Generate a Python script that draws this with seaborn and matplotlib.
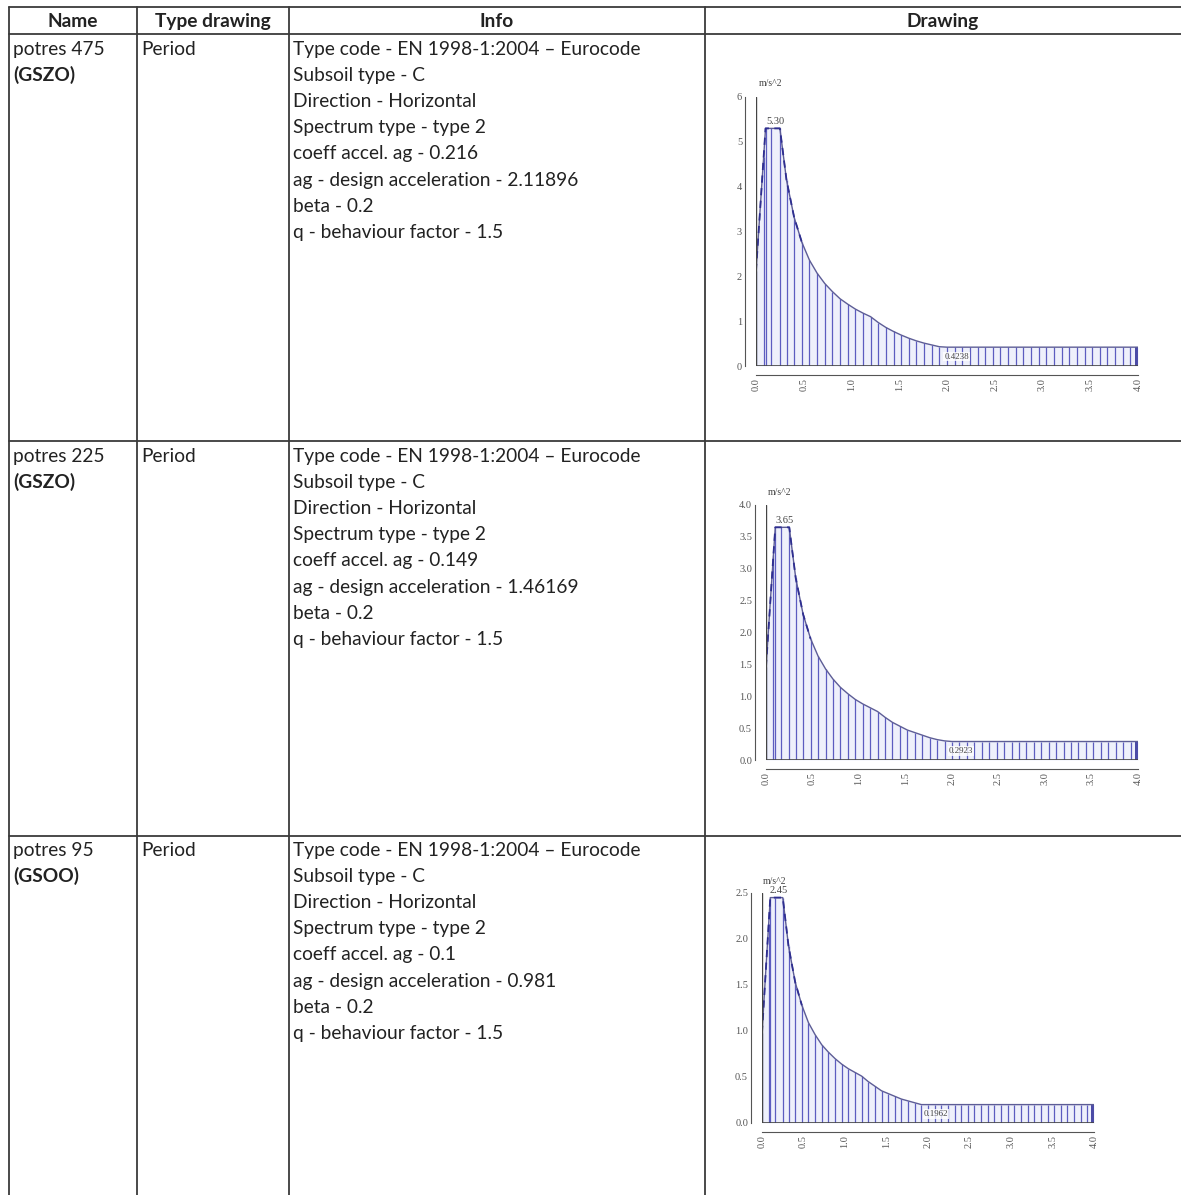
import matplotlib
matplotlib.use("Agg")
import matplotlib.pyplot as plt
import seaborn as sns
import pandas as pd

W, H = 1181, 1195

headers = ["Name", "Type drawing", "Info", "Drawing"]
names = ["potres 475", "potres 225", "potres 95"]
codes = ["(GSZO)", "(GSZO)", "(GSOO)"]
type_drawing = ["Period", "Period", "Period"]
coeff_ag = ["0.216", "0.149", "0.1"]
design_acc = ["2.11896", "1.46169", "0.981"]

# period axis of the spectra (s)
periods = [0.00, 0.08, 0.10, 0.16, 0.25, 0.32, 0.40, 0.48, 0.56, 0.64, 0.72, 0.80,
           0.88, 0.96, 1.04, 1.12, 1.20, 1.28, 1.36, 1.44, 1.52, 1.60, 1.68, 1.76,
           1.84, 1.92, 2.00, 2.08, 2.16, 2.24, 2.32, 2.40, 2.48, 2.56, 2.64, 2.72,
           2.80, 2.88, 2.96, 3.04, 3.12, 3.20, 3.28, 3.36, 3.44, 3.52, 3.60, 3.68,
           3.76, 3.84, 3.92, 4.00]
sd_475 = [2.12, 4.66, 5.30, 5.30, 5.30, 4.14, 3.31, 2.76, 2.36, 2.07, 1.84, 1.66,
          1.50, 1.38, 1.27, 1.18, 1.10, 0.97, 0.86, 0.77, 0.69, 0.62, 0.56, 0.51,
          0.47, 0.43, 0.42, 0.42, 0.42, 0.42, 0.42, 0.42, 0.42, 0.42, 0.42, 0.42,
          0.42, 0.42, 0.42, 0.42, 0.42, 0.42, 0.42, 0.42, 0.42, 0.42, 0.42, 0.42,
          0.42, 0.42, 0.42, 0.42]
sd_225 = [1.46, 3.22, 3.65, 3.65, 3.65, 2.85, 2.28, 1.90, 1.63, 1.43, 1.27, 1.14,
          1.04, 0.95, 0.88, 0.82, 0.76, 0.67, 0.59, 0.53, 0.47, 0.43, 0.39, 0.35,
          0.32, 0.30, 0.29, 0.29, 0.29, 0.29, 0.29, 0.29, 0.29, 0.29, 0.29, 0.29,
          0.29, 0.29, 0.29, 0.29, 0.29, 0.29, 0.29, 0.29, 0.29, 0.29, 0.29, 0.29,
          0.29, 0.29, 0.29, 0.29]
sd_95 = [0.98, 2.16, 2.45, 2.45, 2.45, 1.92, 1.53, 1.28, 1.09, 0.96, 0.85, 0.77,
         0.70, 0.64, 0.59, 0.55, 0.51, 0.45, 0.40, 0.35, 0.32, 0.29, 0.26, 0.24,
         0.22, 0.20, 0.20, 0.20, 0.20, 0.20, 0.20, 0.20, 0.20, 0.20, 0.20, 0.20,
         0.20, 0.20, 0.20, 0.20, 0.20, 0.20, 0.20, 0.20, 0.20, 0.20, 0.20, 0.20,
         0.20, 0.20, 0.20, 0.20]
spectra = [sd_475, sd_225, sd_95]

peak_labels = ["5.30", "3.65", "2.45"]
floor_labels = ["0.4238", "0.2923", "0.1962"]
y_max = [6, 4.0, 2.5]
y_fmt = ["{:.0f}", "{:.1f}", "{:.1f}"]
y_ticks = [[0, 1, 2, 3, 4, 5, 6],
           [0.0, 0.5, 1.0, 1.5, 2.0, 2.5, 3.0, 3.5, 4.0],
           [0.0, 0.5, 1.0, 1.5, 2.0, 2.5]]
x_ticks = [0.0, 0.5, 1.0, 1.5, 2.0, 2.5, 3.0, 3.5, 4.0]

# pixel boxes of the chart areas: left, right, y of zero, y of top
chart_px = [(756, 1138, 366, 97), (766, 1138, 760, 505), (762, 1094, 1123, 893)]
row_top = [49, 456, 850]
line_h = 26.2

sns.set_style("white")
plt.rcParams["font.family"] = ["Lato", "DejaVu Sans"]

fig = plt.figure(figsize=(W / 100, H / 100), dpi=100)
bg = fig.add_axes([0, 0, 1, 1])
bg.set_xlim(0, W)
bg.set_ylim(H, 0)
bg.axis("off")

# table grid
lc = "#3a3a3a"
col_x = [9, 137, 289, 705]
for x in col_x:
    bg.plot([x, x], [7, H], color=lc, lw=1.3)
for y in [7, 34, 441, 836]:
    bg.plot([9, W], [y, y], color=lc, lw=1.3)

txt = dict(fontsize=13.8, color="#222222", va="center")
col_mid = [73, 213, 497, 943]
for h, cx in zip(headers, col_mid):
    bg.text(cx, 21, h, ha="center", fontweight="bold", **txt)

for i in range(3):
    y0 = row_top[i]
    bg.text(13, y0, names[i], ha="left", **txt)
    bg.text(13, y0 + line_h, codes[i], ha="left", fontweight="bold", **txt)
    bg.text(141, y0, type_drawing[i], ha="left", **txt)
    info = ["Type code - EN 1998-1:2004 \u2013 Eurocode",
            "Subsoil type - C",
            "Direction - Horizontal",
            "Spectrum type - type 2",
            f"coeff accel. ag - {coeff_ag[i]}",
            f"ag - design acceleration - {design_acc[i]}",
            "beta - 0.2",
            "q - behaviour factor - 1.5"]
    for k, line in enumerate(info):
        bg.text(293, y0 + k * line_h, line, ha="left", **txt)

serif = ["Liberation Serif", "DejaVu Serif"]
for i in range(3):
    left, right, yz, yt = chart_px[i]
    ax = fig.add_axes([left / W, (H - yz) / H, (right - left) / W, (yz - yt) / H])
    ax.set_facecolor("none")
    df = pd.DataFrame({"T": periods, "Sd": spectra[i]})

    ax.fill_between(df["T"], 0, df["Sd"], color="#eef0fb", lw=0)
    ax.vlines(df["T"], 0, df["Sd"], color="#5c5cc0", lw=0.9)
    sns.lineplot(data=df, x="T", y="Sd", ax=ax, color="#5d5d96", lw=1.0)
    # darker dashed trace over the rising branch and the first drop
    sns.lineplot(data=df.iloc[:8], x="T", y="Sd", ax=ax, color="#2e2e90",
                 lw=1.3, linestyle=(0, (4, 3)))
    ax.bar(df["T"].iloc[-1], df["Sd"].iloc[-1], width=-0.035, align="edge",
           color="#4b4ba6", lw=0)
    ax.axvline(0, color="#444444", lw=1.0)
    ax.axhline(0, color="#444444", lw=1.2)

    ax.set_xlim(0, 4.0)
    ax.set_ylim(0, y_max[i])
    ax.set_xticks(x_ticks)
    ax.set_yticks(y_ticks[i])
    ax.set_xlabel("")
    ax.set_ylabel("")
    sns.despine(ax=ax, offset={"left": 8, "bottom": 6.5}, trim=True)
    ax.set_xticks(x_ticks)
    ax.set_xticklabels([f"{v:.1f}" for v in x_ticks], rotation=90,
                       fontfamily=serif, fontsize=7.5, color="#555555")
    ax.set_yticks(y_ticks[i])
    ax.set_yticklabels([y_fmt[i].format(v) for v in y_ticks[i]],
                       fontfamily=serif, fontsize=7.5, color="#555555")
    for s in ["left", "bottom"]:
        ax.spines[s].set_color("#555555")
        ax.spines[s].set_linewidth(0.8)
    ax.tick_params(direction="in", length=3, width=0.8, color="#555555", pad=2)

    top = y_max[i]
    ax.text(0.15, top * 1.05, "m/s^2", fontfamily=serif, fontsize=7,
            color="#444444", ha="center", va="center", clip_on=False)
    ax.annotate(peak_labels[i], (0.2, max(spectra[i])), xytext=(0, 2),
                textcoords="offset points", ha="center", va="bottom",
                fontfamily=serif, fontsize=7.5, color="#444444")
    ax.text(2.1, df["Sd"].iloc[-1] * 0.5, floor_labels[i], fontfamily=serif,
            fontsize=6.5, color="#444444", ha="center", va="center",
            bbox=dict(boxstyle="square,pad=0.1", fc="white", ec="none", alpha=0.8))

fig.savefig("out.png", dpi=100)
